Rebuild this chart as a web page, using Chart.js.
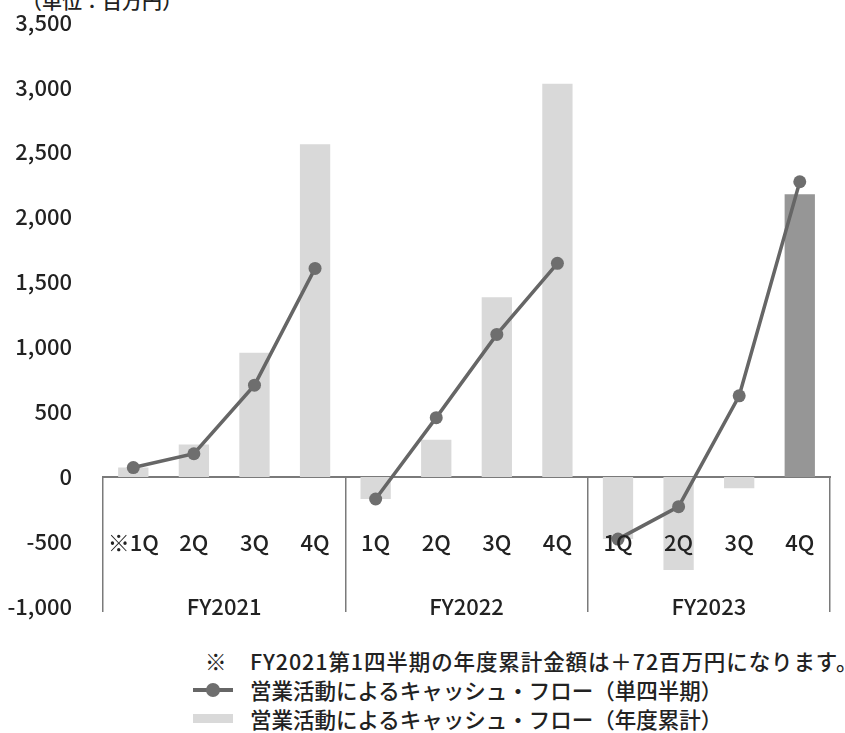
<!DOCTYPE html>
<html lang="ja">
<head>
<meta charset="utf-8">
<title>営業活動によるキャッシュ・フロー</title>
<script src="https://cdn.jsdelivr.net/npm/chart.js@4"></script>
<style>
  html, body { margin: 0; padding: 0; background: #fff; }
  body { width: 845px; height: 733px; position: relative; overflow: hidden;
         font-family: "Noto Sans CJK JP", sans-serif; font-weight: 500; color: #222; }
  #unit { position: absolute; left: 22px; top: -14px; font-size: 20px; white-space: nowrap; }
  #wrap { position: absolute; left: 0; top: -14px; width: 868px; height: 657px; }
  #legend { position: absolute; left: 0; top: 646px; width: 845px; font-size: 21.5px; line-height: 29px; }
  .row { position: relative; height: 29px; white-space: nowrap; }
  .row .mark { position: absolute; left: 193px; top: 0; width: 40px; height: 29px; }
  .row .txt { position: absolute; left: 250px; top: 0; }
  .row .txt.wide { letter-spacing: 0.9px; }
  .row .note { position: absolute; left: 205px; top: 0; }
  .mark .ln { position: absolute; left: 0; right: 0; top: 13px; height: 4px; }
  .mark .pt { position: absolute; left: 13px; top: 8px; width: 14px; height: 14px; border-radius: 50%; }
  .mark .bx { position: absolute; left: 0; right: 0; top: 10px; height: 9px; }
</style>
</head>
<body>
<div id="unit"></div>
<div id="wrap"><canvas id="cfChart"></canvas></div>
<div id="legend"></div>

<script>
// data (百万円)
const quarters = ['※1Q', '2Q', '3Q', '4Q', '1Q', '2Q', '3Q', '4Q', '1Q', '2Q', '3Q', '4Q'];
const years = ['FY2021', 'FY2022', 'FY2023'];
const quarterly = [72, 178, 706, 1605, -170, 456, 1097, 1644, -479, -229, 624, 2272];
const cumulative = [72, 250, 956, 2561, -170, 286, 1383, 3027, -479, -716, -88, 2176];
const seriesNames = ['営業活動によるキャッシュ・フロー（単四半期）', '営業活動によるキャッシュ・フロー（年度累計）'];
const unitText = '（単位：百万円）';
const noteMark = '※';
const noteText = 'FY2021第1四半期の年度累計金額は＋72百万円になります。';
const yMin = -1000, yMax = 3500, yStep = 500;

// colours
const lineColor = '#666666';
const pointColor = '#6e6e6e';
const barLight = '#d9d9d9';
const barDark = '#969696';
const axisColor = '#7a7a7a';
const perYear = quarters.length / years.length;

// latest quarter bar is darker
const barColors = cumulative.map((v, i) => i === cumulative.length - 1 ? barDark : barLight);

// group boundaries and centres on a linear axis that lines up with the category axis
const groupTicks = [];
years.forEach((y, i) => { groupTicks.push(i * perYear - 0.5, i * perYear + (perYear - 1) / 2); });
groupTicks.push(years.length * perYear - 0.5);
const isBoundary = v => (v + 0.5) % perYear === 0;

document.getElementById('unit').textContent = unitText;

Chart.defaults.font.family = '"Noto Sans CJK JP", sans-serif';
Chart.defaults.font.size = 22;
Chart.defaults.font.weight = 500;
Chart.defaults.color = '#222';

// html legend built from the datasets
const htmlLegend = {
  id: 'htmlLegend',
  afterUpdate(chart){
    const box = document.getElementById('legend');
    box.innerHTML = '';
    const note = document.createElement('div');
    note.className = 'row';
    note.innerHTML = '<span class="note"></span><span class="txt wide"></span>';
    note.querySelector('.note').textContent = noteMark;
    note.querySelector('.txt').textContent = noteText;
    box.appendChild(note);

    chart.data.datasets.forEach(ds => {
      const row = document.createElement('div');
      row.className = 'row';
      const mark = document.createElement('span');
      mark.className = 'mark';
      if (ds.type === 'line') {
        mark.innerHTML = `<span class="ln" style="background:${ds.borderColor}"></span>` +
                         `<span class="pt" style="background:${ds.pointBackgroundColor}"></span>`;
      } else {
        mark.innerHTML = `<span class="bx" style="background:${barLight}"></span>`;
      }
      const txt = document.createElement('span');
      txt.className = 'txt';
      txt.textContent = ds.label;
      row.appendChild(mark);
      row.appendChild(txt);
      box.appendChild(row);
    });
  }
};

new Chart(document.getElementById('cfChart'), {
  data: {
    labels: quarters,
    datasets: [
      {
        type: 'line',
        label: seriesNames[0],
        data: quarterly,
        order: 0,
        borderColor: lineColor,
        borderWidth: 3.5,
        pointRadius: 6.5,
        pointBackgroundColor: pointColor,
        pointBorderWidth: 0,
        // no line between the last quarter of a year and the next year
        segment: {
          borderColor: ctx => (ctx.p0DataIndex % perYear === perYear - 1 ? 'transparent' : lineColor)
        }
      },
      {
        type: 'bar',
        label: seriesNames[1],
        data: cumulative,
        order: 1,
        backgroundColor: barColors,
        barPercentage: 0.5,
        categoryPercentage: 1.0
      }
    ]
  },
  options: {
    responsive: true,
    maintainAspectRatio: false,
    animation: false,
    layout: { padding: { left: 0, right: 16, top: 10, bottom: 10 } },
    plugins: {
      legend: { display: false },
      tooltip: { enabled: false }
    },
    scales: {
      y: {
        min: yMin,
        max: yMax,
        grid: { display: false },
        border: { display: false },
        ticks: {
          stepSize: yStep,
          padding: 23,
          callback: v => v.toLocaleString('en-US')
        },
        afterFit: s => { s.width = 103; }
      },
      x: {
        type: 'category',
        position: { y: 0 },
        offset: true,
        grid: { display: false, drawTicks: false },
        border: { display: true, color: axisColor, width: 2 },
        ticks: { padding: 53, autoSkip: false, maxRotation: 0, z: 1 }
      },
      xGroup: {
        type: 'linear',
        axis: 'x',
        position: { y: 0 },
        min: -0.5,
        max: quarters.length - 0.5,
        afterBuildTicks: s => { s.ticks = groupTicks.map(v => ({ value: v })); },
        grid: {
          display: true,
          drawOnChartArea: false,
          drawTicks: true,
          tickLength: 135,
          lineWidth: 1.5,
          color: ctx => (ctx.tick && isBoundary(ctx.tick.value) ? axisColor : 'transparent')
        },
        border: { display: false },
        ticks: {
          padding: -18,
          autoSkip: false,
          maxRotation: 0,
          callback: v => (isBoundary(v) ? '' : years[Math.round((v - (perYear - 1) / 2) / perYear)])
        }
      }
    }
  },
  plugins: [htmlLegend]
});
</script>
</body>
</html>
